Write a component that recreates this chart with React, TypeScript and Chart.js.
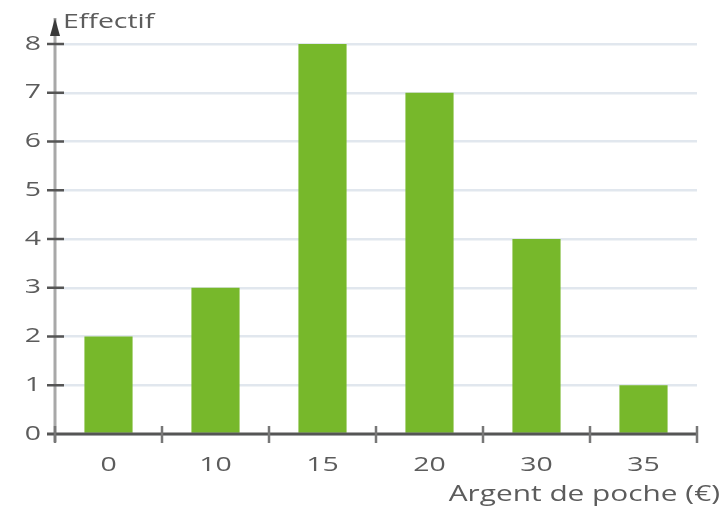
import React, { useEffect, useRef } from "react";
import { Chart, registerables } from "chart.js";

Chart.register(...registerables);

const categories: string[] = ["0", "10", "15", "20", "30", "35"];
const effectifs: number[] = [2, 3, 8, 7, 4, 1];
const yTicks: number[] = [0, 1, 2, 3, 4, 5, 6, 7, 8];
const yTitle = "Effectif";
const xTitle = "Argent de poche (€)";

const BAR_COLOR = "#77b82b";
const TEXT_COLOR = "#5c5c5c";
const AXIS_DARK = "#555555";
const FONT = "'Open Sans', 'DejaVu Sans', sans-serif";
const SX = 1.42;

function drawText(
  ctx: CanvasRenderingContext2D,
  text: string,
  x: number,
  y: number,
  align: CanvasTextAlign,
  size: number
) {
  ctx.save();
  ctx.translate(x, y);
  ctx.scale(SX, 1);
  ctx.font = `${size}px ${FONT}`;
  ctx.fillStyle = TEXT_COLOR;
  ctx.textAlign = align;
  ctx.textBaseline = "middle";
  ctx.fillText(text, 0, 0);
  ctx.restore();
}

const axesPlugin = {
  id: "customAxes",
  afterDraw(chart: any) {
    const ctx: CanvasRenderingContext2D = chart.ctx;
    const x = chart.scales.x;
    const y = chart.scales.y;
    const area = chart.chartArea;
    const y0 = y.getPixelForValue(0);
    const half = (x.getPixelForValue(1) - x.getPixelForValue(0)) / 2;

    ctx.save();
    // y axis line (light gray)
    ctx.strokeStyle = "#a8a8a8";
    ctx.lineWidth = 3;
    ctx.beginPath();
    ctx.moveTo(area.left, y0 + 8);
    ctx.lineTo(area.left, area.top - 26);
    ctx.stroke();
    // arrow head
    ctx.fillStyle = "#3a3a3a";
    ctx.beginPath();
    ctx.moveTo(area.left, area.top - 26);
    ctx.lineTo(area.left - 5, area.top - 8);
    ctx.lineTo(area.left + 5, area.top - 8);
    ctx.closePath();
    ctx.fill();
    // y ticks crossing axis
    ctx.strokeStyle = AXIS_DARK;
    ctx.lineWidth = 2.5;
    yTicks.forEach((v) => {
      if (v === 0) return;
      const py = y.getPixelForValue(v);
      ctx.beginPath();
      ctx.moveTo(area.left - 8, py);
      ctx.lineTo(area.left + 9, py);
      ctx.stroke();
    });
    // x axis line
    ctx.strokeStyle = AXIS_DARK;
    ctx.lineWidth = 3;
    ctx.beginPath();
    ctx.moveTo(area.left - 8, y0);
    ctx.lineTo(area.right, y0);
    ctx.stroke();
    // x ticks at category boundaries
    ctx.strokeStyle = "#777777";
    ctx.lineWidth = 2.5;
    for (let i = 0; i <= categories.length; i++) {
      const px = x.getPixelForValue(i) - half;
      ctx.beginPath();
      ctx.moveTo(px, y0 - 8);
      ctx.lineTo(px, y0 + 9);
      ctx.stroke();
    }
    ctx.restore();

    // labels
    yTicks.forEach((v) => {
      drawText(ctx, String(v), area.left - 14, y.getPixelForValue(v), "right", 20);
    });
    categories.forEach((c, i) => {
      drawText(ctx, c, x.getPixelForValue(i), y0 + 31, "center", 20);
    });
    drawText(ctx, yTitle, area.left + 8, area.top - 22, "left", 20);
    drawText(ctx, xTitle, chart.width - 4, y0 + 61, "right", 21);
  },
};

export default function App() {
  const canvasRef = useRef<HTMLCanvasElement | null>(null);

  useEffect(() => {
    const canvas = canvasRef.current;
    if (!canvas) return;
    const chart = new Chart(canvas, {
      type: "bar",
      data: {
        labels: categories,
        datasets: [
          {
            data: effectifs,
            backgroundColor: BAR_COLOR,
            borderWidth: 0,
            barPercentage: 0.45,
            categoryPercentage: 1,
          },
        ],
      },
      options: {
        animation: false,
        responsive: false,
        devicePixelRatio: 1,
        layout: { padding: { top: 44, left: 55, right: 27, bottom: 77 } },
        plugins: { legend: { display: false }, tooltip: { enabled: false } },
        scales: {
          x: { display: false },
          y: {
            display: true,
            min: 0,
            max: 8,
            ticks: { stepSize: 1, display: false },
            grid: { color: "#e1e7ee", lineWidth: 2.5, drawTicks: false },
            border: { display: false },
            afterFit: (s: any) => {
              s.width = 0;
            },
          },
        },
      },
      plugins: [axesPlugin],
    });
    return () => chart.destroy();
  }, []);

  return (
    <div style={{ position: "fixed", left: 0, top: 0, width: 724, height: 511, background: "#ffffff" }}>
      <canvas ref={canvasRef} width={724} height={511} style={{ width: 724, height: 511, display: "block" }} />
    </div>
  );
}
